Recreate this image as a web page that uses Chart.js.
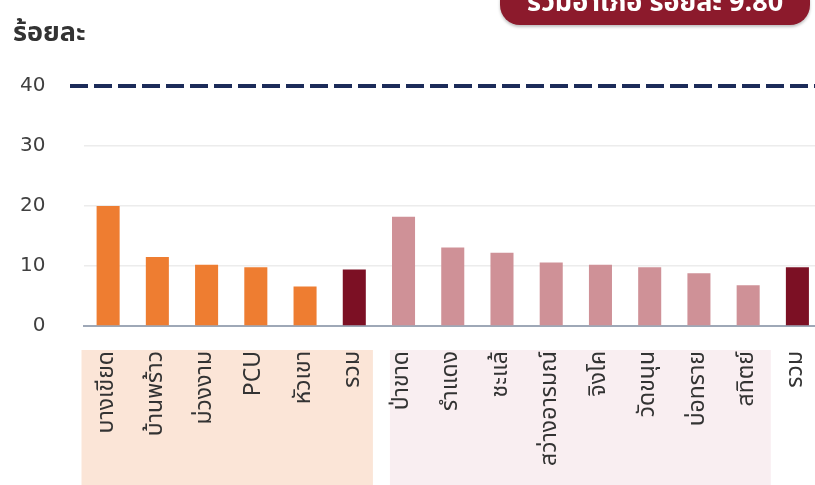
<!DOCTYPE html>
<html>
<head>
<meta charset="utf-8">
<script src="https://cdn.jsdelivr.net/npm/chart.js@4.4.1/dist/chart.umd.min.js"></script>
<style>
  html, body { margin: 0; padding: 0; background: #fff; }
  #wrap { position: relative; width: 815px; height: 485px; overflow: hidden; }
  #chart { position: absolute; left: 0; top: 0; }
  #yTitle {
    position: absolute; left: 13px; top: 12px;
    font-family: Tahoma, 'Noto Sans Thai', 'Noto Sans', sans-serif;
    font-size: 27px; font-weight: bold; color: #333;
  }
  #badge {
    position: absolute; left: 500px; top: -19px; width: 310px; height: 44px;
    border-radius: 20px; background: #8c1a2c; color: #fff;
    box-shadow: 0 2px 3px rgba(0,0,0,0.25);
    font-family: Tahoma, 'Noto Sans Thai', 'Noto Sans', sans-serif;
    font-size: 27px; font-weight: bold; line-height: 44px; text-align: center;
  }
</style>
</head>
<body>
<div id="wrap">
  <canvas id="chart" width="850" height="485"></canvas>
  <div id="yTitle">ร้อยละ</div>
  <div id="badge">รวมอำเภอ ร้อยละ 9.80</div>
</div>
<script>
const categories = ['บางเขียด', 'บ้านพร้าว', 'ม่วงงาม', 'PCU', 'หัวเขา', 'รวม',
  'ป่าขาด', 'รำแดง', 'ชะแล้', 'สว่างอารมณ์', 'จิงโค', 'วัดขนุน', 'บ่อทราย', 'สทิตย์', 'รวม'];
const percentValues = [20.0, 11.5, 10.2, 9.8, 6.6, 9.4,
  18.2, 13.1, 12.2, 10.6, 10.2, 9.8, 8.8, 6.8, 9.8];
// which group each bar belongs to: A = first group, B = second group, T = total
const groupOf = ['A', 'A', 'A', 'A', 'A', 'T', 'B', 'B', 'B', 'B', 'B', 'B', 'B', 'B', 'T'];
const yTicks = [0, 10, 20, 30, 40];
const targetValue = 40;
// label background bands: [first index, last index]
const bandA = [0, 5];
const bandB = [6, 13];

const groupColors = { A: '#ee7d31', B: '#cf9197', T: '#7c1024' };
const thaiFont = "Tahoma, 'Noto Sans Thai', 'Noto Sans', sans-serif";
const numFont = "'DejaVu Sans', Verdana, sans-serif";

const bandPlugin = {
  id: 'bands',
  beforeDraw(chart) {
    const { ctx } = chart;
    const x = chart.scales.x;
    const half = (x.getPixelForValue(1) - x.getPixelForValue(0)) / 2;
    const top = x.top + 24;
    const draw = (range, color, insL, insR) => {
      const l = x.getPixelForValue(range[0]) - half + insL;
      const r = x.getPixelForValue(range[1]) + half - insR;
      ctx.save();
      ctx.fillStyle = color;
      ctx.fillRect(l, top, r - l, chart.height - top);
      ctx.restore();
    };
    draw(bandA, '#fbe5d7', -2, 6);
    draw(bandB, '#f9eef1', 11, 2);
  },
  afterDatasetsDraw(chart) {
    const { ctx } = chart;
    const y = chart.scales.y.getPixelForValue(targetValue);
    ctx.save();
    ctx.strokeStyle = '#1c2b59';
    ctx.lineWidth = 4;
    ctx.setLineDash([18, 6]);
    ctx.beginPath();
    ctx.moveTo(70, y);
    ctx.lineTo(chart.width, y);
    ctx.stroke();
    ctx.restore();
  }
};

new Chart(document.getElementById('chart'), {
  type: 'bar',
  data: {
    labels: categories,
    datasets: [{
      data: percentValues,
      backgroundColor: groupOf.map((g) => groupColors[g]),
      barPercentage: 0.9,
      categoryPercentage: 0.52,
    }],
  },
  options: {
    responsive: false,
    animation: false,
    layout: { padding: { top: 86, right: 0, left: 0, bottom: 0 } },
    plugins: { legend: { display: false }, tooltip: { enabled: false } },
    scales: {
      x: {
        grid: { display: false, drawTicks: false },
        border: { color: '#9ea8b7', width: 2 },
        ticks: {
          minRotation: 90, maxRotation: 90, autoSkip: false, padding: 25,
          color: '#333', font: { family: thaiFont, size: 23 },
        },
        afterFit(scale) { scale.height = 159; },
      },
      y: {
        min: 0, max: 40,
        afterBuildTicks(scale) { scale.ticks = yTicks.map((v) => ({ value: v })); },
        grid: {
          drawTicks: false,
          color: (c) => (c.tick && (c.tick.value === 0 || c.tick.value === targetValue) ? 'rgba(0,0,0,0)' : '#ececec'),
          lineWidth: 1.5,
        },
        border: { display: false },
        ticks: { padding: 38, color: '#404040', font: { family: numFont, size: 20 } },
        afterFit(scale) { scale.width = 83.5; },
      },
    },
  },
  plugins: [bandPlugin],
});
</script>
</body>
</html>
